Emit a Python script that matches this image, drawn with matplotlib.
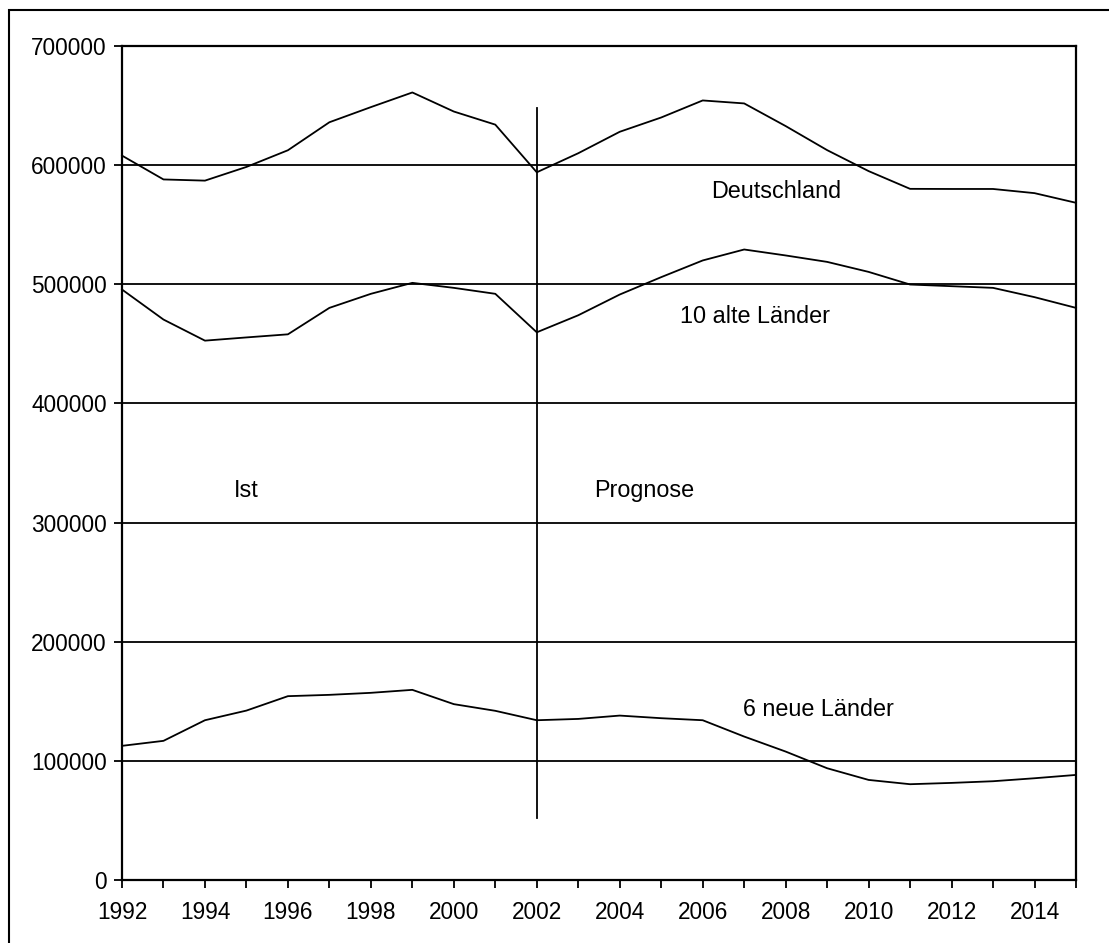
import matplotlib
matplotlib.use("Agg")
import matplotlib.pyplot as plt
from matplotlib.patches import Rectangle

years = list(range(1992, 2016))
deutschland = [608000, 588000, 587000, 598500, 612500, 636000, 648700, 661000,
               645000, 634000, 594000, 610000, 628000, 640000, 654300, 651800,
               632800, 612600, 595000, 580100, 580000, 580000, 576500, 568400]
alte_laender = [495600, 470400, 452700, 455400, 458000, 480200, 492000, 501200,
                497000, 492000, 459700, 474000, 491400, 506000, 520000, 529200,
                524200, 518800, 510400, 499800, 498400, 497000, 489200, 480200]
neue_laender = [112600, 116800, 134100, 142200, 154300, 155400, 157100, 159600,
                147600, 142000, 134100, 135200, 138000, 135800, 134100, 120400,
                107800, 93800, 84000, 80400, 81500, 82900, 85400, 88200]
y_ticks = [0, 100000, 200000, 300000, 400000, 500000, 600000, 700000]
x_labels = [str(y) if y % 2 == 0 else "" for y in years]
split_year = 2002
split_range = [52000, 648000]

plt.rcParams['font.family'] = ['Liberation Sans', 'DejaVu Sans']
fig = plt.figure(figsize=(11.09, 9.43), dpi=100)
ax = fig.add_axes([122/1109, 63/943, 954/1109, 834/943])

lw = 1.3
for s in (deutschland, alte_laender, neue_laender):
    ax.plot(years, s, color='black', lw=lw, clip_on=False)
ax.plot([split_year, split_year], split_range, color='black', lw=lw)

ax.set_xlim(1992, 2015)
ax.set_ylim(0, 700000)
ax.set_yticks(y_ticks)
ax.set_yticklabels([str(v) for v in y_ticks])
ax.set_xticks(years)
ax.set_xticklabels(x_labels)
ax.yaxis.grid(True, color='black', lw=lw)
ax.set_axisbelow(True)
for sp in ax.spines.values():
    sp.set_linewidth(lw + 0.3)
ax.tick_params(axis='both', direction='out', length=6, width=lw, labelsize=16.3, colors='black')
ax.tick_params(axis='x', pad=9)
ax.tick_params(axis='y', pad=5)

fs = 16.8
ax.text(2007.77, 577500, "Deutschland", ha='center', va='center', fontsize=fs)
ax.text(2007.25, 472800, "10 alte Länder", ha='center', va='center', fontsize=fs)
ax.text(1995.0, 327300, "Ist", ha='center', va='center', fontsize=fs)
ax.text(2004.6, 327300, "Prognose", ha='center', va='center', fontsize=fs)
ax.text(2008.8, 143500, "6 neue Länder", ha='center', va='center', fontsize=fs)

fig.patches.append(Rectangle((9/1109, -0.1), 1.2, 1 - 9.5/943 + 0.1,
                             transform=fig.transFigure, fill=False,
                             edgecolor='black', lw=1.5))

fig.savefig("out.png", dpi=100)
